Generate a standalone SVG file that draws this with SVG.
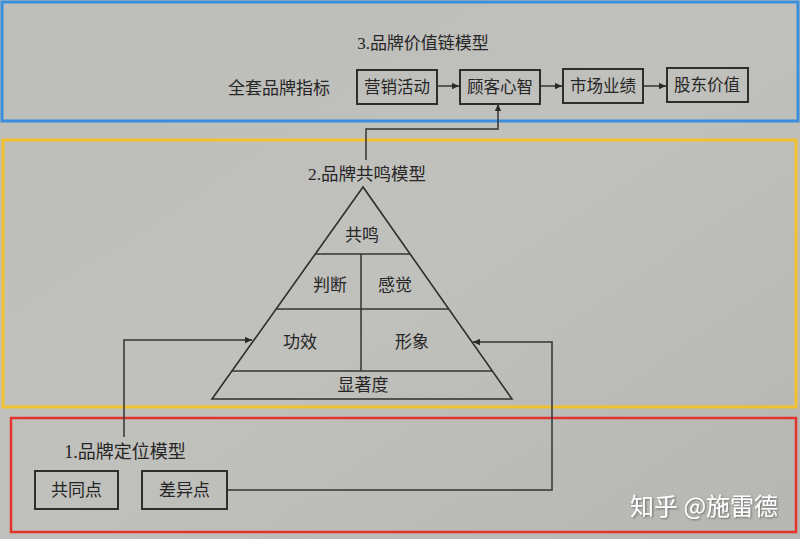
<svg xmlns="http://www.w3.org/2000/svg" width="800" height="539" viewBox="0 0 800 539">
<defs>
<style>
.t{font-family:"Liberation Serif","Noto Sans CJK SC",serif;fill:#262626;text-anchor:middle;dominant-baseline:central}
.b{fill:none;stroke:#2e2e2e;stroke-width:2}
.l{fill:none;stroke:#333;stroke-width:1.5}
.wm{font-family:"Noto Sans CJK SC","Noto Sans",sans-serif;fill:#ffffff;font-size:24px;dominant-baseline:central}
</style>
<marker id="ah" viewBox="0 0 10 10" refX="10" refY="5" markerWidth="7" markerHeight="7" orient="auto" markerUnits="userSpaceOnUse">
<path d="M0,0.5 L10,5 L0,9.5 Z" fill="#2a2a2a"/>
</marker>
<filter id="sh" x="-10%" y="-30%" width="120%" height="160%">
<feDropShadow dx="1" dy="1" stdDeviation="1" flood-color="#555" flood-opacity="0.8"/>
</filter>
<linearGradient id="bg" x1="0" y1="0" x2="1" y2="1">
<stop offset="0" stop-color="#bdbdb9"/>
<stop offset="0.5" stop-color="#c0c0bc"/>
<stop offset="1" stop-color="#b6b6b2"/>
</linearGradient>
</defs>
<rect x="0" y="0" width="800" height="539" fill="url(#bg)"/>

<!-- section frames -->
<rect x="2" y="2" width="796" height="119" fill="none" stroke="#3b8edb" stroke-width="3"/>
<rect x="3" y="140" width="793" height="267" fill="none" stroke="#f2c12e" stroke-width="3"/>
<rect x="11" y="418" width="785" height="114" fill="none" stroke="#e3342c" stroke-width="2.5"/>

<!-- section 3 -->
<g id="title3"><text class="t" x="423" y="43" font-size="17">3.品牌价值链模型</text></g>
<g id="label-full"><text class="t" x="279" y="88" font-size="17">全套品牌指标</text></g>
<g id="n-marketing"><rect class="b" x="357" y="70" width="80" height="34"/><text class="t" x="397" y="87" font-size="16.5">营销活动</text></g>
<g id="n-mindset"><rect class="b" x="460" y="70" width="80" height="34"/><text class="t" x="500" y="87" font-size="16.5">顾客心智</text></g>
<g id="n-market"><rect class="b" x="563" y="69" width="80" height="34"/><text class="t" x="603" y="86" font-size="16.5">市场业绩</text></g>
<g id="n-share"><rect class="b" x="667" y="68" width="81" height="34"/><text class="t" x="707" y="85" font-size="16.5">股东价值</text></g>

<!-- section 2 -->
<g id="title2"><text class="t" x="367" y="174" font-size="17.5">2.品牌共鸣模型</text></g>
<g id="pyramid">
<polygon points="363,187 212,399 512,399" fill="none" stroke="#2e2e2e" stroke-width="1.6"/>
<line class="l" x1="315.3" y1="254" x2="410.1" y2="254"/>
<line class="l" x1="276.1" y1="309" x2="448.7" y2="309"/>
<line class="l" x1="232" y1="371" x2="492.3" y2="371"/>
<line class="l" x1="361" y1="254" x2="361" y2="371"/>
</g>
<g id="n-resonance"><text class="t" x="362" y="235" font-size="17">共鸣</text></g>
<g id="n-judgement"><text class="t" x="330" y="285" font-size="17">判断</text></g>
<g id="n-feelings"><text class="t" x="395" y="285" font-size="17">感觉</text></g>
<g id="n-performance"><text class="t" x="300" y="342" font-size="17">功效</text></g>
<g id="n-imagery"><text class="t" x="412" y="342" font-size="17">形象</text></g>
<g id="n-salience"><text class="t" x="363" y="385" font-size="17">显著度</text></g>

<!-- section 1 -->
<g id="title1"><text class="t" x="125" y="452" font-size="18">1.品牌定位模型</text></g>
<g id="n-pop"><rect class="b" x="35" y="471" width="83" height="38"/><text class="t" x="76.5" y="490" font-size="17">共同点</text></g>
<g id="n-pod"><rect class="b" x="142" y="471" width="85" height="38"/><text class="t" x="184.5" y="490" font-size="17">差异点</text></g>

<!-- connectors -->
<g id="connectors">
<line class="l" x1="437" y1="86" x2="459" y2="86" marker-end="url(#ah)"/>
<line class="l" x1="540" y1="86" x2="562" y2="86" marker-end="url(#ah)"/>
<line class="l" x1="643" y1="86" x2="666" y2="86" marker-end="url(#ah)"/>
<path class="l" d="M366,160 V129 H498 V104" marker-end="url(#ah)"/>
<path class="l" d="M124,437 V340 H252" marker-end="url(#ah)"/>
<path class="l" d="M227,490 H552 V342 H473" marker-end="url(#ah)"/>
</g>

<!-- watermark -->
<g id="watermark"><text class="wm" x="630" y="504" filter="url(#sh)">知乎 @施雷德</text></g>
</svg>
